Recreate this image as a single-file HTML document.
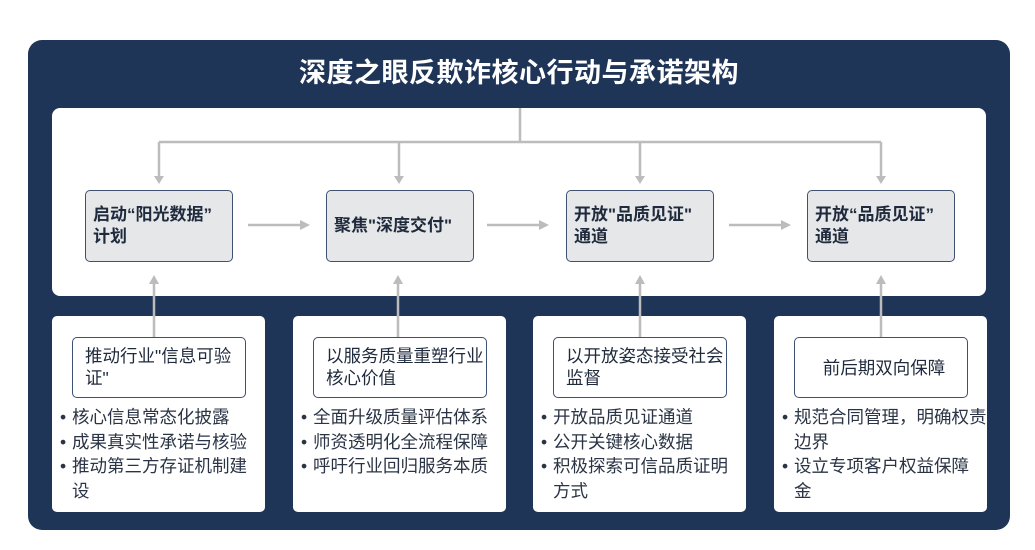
<!DOCTYPE html>
<html><head><meta charset="utf-8"><style>
*{margin:0;padding:0;box-sizing:border-box}
body{width:1035px;height:550px;background:#fff;position:relative;overflow:hidden;font-family:"Liberation Sans","Noto Sans CJK SC",sans-serif}
.outer{position:absolute;left:28px;top:40px;width:982px;height:490px;background:#1f3558;border-radius:14px}
.title{position:absolute;left:28px;top:56px;width:982px;text-align:center;color:#fff;font-size:27px;font-weight:bold;line-height:34px;letter-spacing:0.5px}
.inner{position:absolute;left:52px;top:108px;width:934px;height:188px;background:#fff;border-radius:8px}
.node{position:absolute;top:190px;width:148px;height:72px;background:#e6e7e9;border:1.5px solid #3e5170;border-radius:5px;font-size:17px;font-weight:bold;color:#1f2a3c;line-height:22px;padding:0 7px;display:flex;align-items:center;white-space:nowrap}
.card{position:absolute;top:316px;width:213px;height:196px;background:#fff;border-radius:5px}
.ibox{position:absolute;left:20px;top:21px;width:174px;height:61px;border:1.5px solid #3e5170;border-radius:5px;font-size:17.5px;color:#1f2a3c;line-height:22px;padding:7px 6px 0 12px;white-space:nowrap}
.list{position:absolute;left:8px;top:89px;width:205px;font-size:17.5px;color:#2a3445;line-height:24.5px;white-space:nowrap}
.list div{padding-left:12px;position:relative}
.list div:before{content:"•";position:absolute;left:0;top:0}
svg{position:absolute;left:0;top:0}
</style></head><body>
<div class="outer"></div>
<div class="title">深度之眼反欺诈核心行动与承诺架构</div>
<div class="inner"></div>
<div class="card" style="left:52px"><div class="ibox">推动行业"信息可验<br>证"</div><div class="list"><div>核心信息常态化披露</div><div>成果真实性承诺与核验</div><div>推动第三方存证机制建<br>设</div></div></div>
<div class="card" style="left:293px"><div class="ibox">以服务质量重塑行业<br>核心价值</div><div class="list"><div>全面升级质量评估体系</div><div>师资透明化全流程保障</div><div>呼吁行业回归服务本质</div></div></div>
<div class="card" style="left:533px"><div class="ibox">以开放姿态接受社会<br>监督</div><div class="list"><div>开放品质见证通道</div><div>公开关键核心数据</div><div>积极探索可信品质证明<br>方式</div></div></div>
<div class="card" style="left:774px"><div class="ibox" style="padding-top:19px;text-align:center">前后期双向保障</div><div class="list"><div>规范合同管理，明确权责<br>边界</div><div>设立专项客户权益保障<br>金</div></div></div>
<svg width="1035" height="550">
<g stroke="#bcbcbc" stroke-width="2.5" fill="none">
<path d="M520 108V142M159 142H881M159 142V180M399 142V180M640 142V180M881 142V180"/>
<path d="M248 225H302M487 225H541M729 225H783"/>
<path d="M154 337V283M398 337V283M640 337V283M881 337V283"/>
</g>
<g fill="#bcbcbc">
<path d="M159 184l-5-8h10zM399 184l-5-8h10zM640 184l-5-8h10zM881 184l-5-8h10z"/>
<path d="M310 225l-10-5v10zM549 225l-10-5v10zM791 225l-10-5v10z"/>
<path d="M154 275l-5 9h10zM398 275l-5 9h10zM640 275l-5 9h10zM881 275l-5 9h10z"/>
</g>
</svg>
<div class="node" style="left:85px">启动“阳光数据”<br>计划</div>
<div class="node" style="left:326px">聚焦"深度交付"</div>
<div class="node" style="left:566px">开放"品质见证"<br>通道</div>
<div class="node" style="left:807px">开放“品质见证”<br>通道</div>
</body></html>
